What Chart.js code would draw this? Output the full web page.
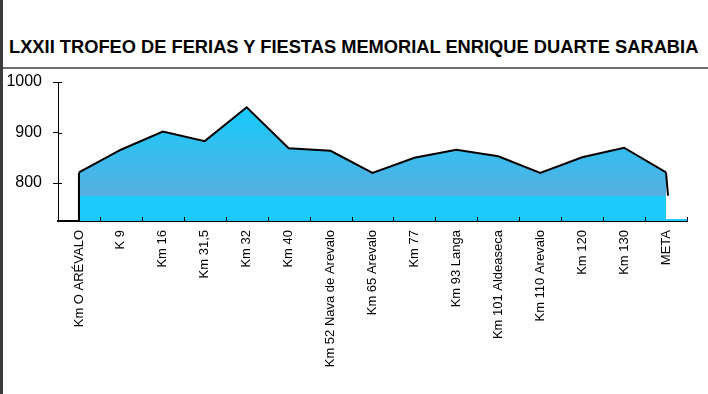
<!DOCTYPE html>
<html>
<head>
<meta charset="utf-8">
<script src="https://cdn.jsdelivr.net/npm/chart.js@4.4.1/dist/chart.umd.min.js"></script>
<style>
  html, body { margin: 0; padding: 0; background: #fff; }
  body { width: 708px; height: 394px; position: relative; overflow: hidden; font-family: "Liberation Sans", Arial, sans-serif; }
  #leftbar { position: absolute; left: 0; top: 0; width: 3px; height: 394px; background: #3c3c3c; }
  #topline { position: absolute; left: 3px; top: 67px; width: 705px; height: 2px; background: #6e6e6e; }
  #title { position: absolute; left: 9px; top: 36px; font-size: 18.3px; font-weight: bold; color: #000; white-space: nowrap; line-height: 22px; }
  #wrap { position: absolute; left: 0; top: 0; width: 708px; height: 394px; }
</style>
</head>
<body>
<div id="leftbar"></div>
<div id="topline"></div>
<div id="title">LXXII TROFEO DE FERIAS Y FIESTAS MEMORIAL ENRIQUE DUARTE SARABIA</div>
<div id="wrap"><canvas id="c" width="708" height="394"></canvas></div>
<script>
// ---- data ----
const categories = ["Km O ARÉVALO", "K 9", "Km 16", "Km 31,5", "Km 32", "Km 40", "Km 52 Nava de Arevalo",
  "Km 65 Arevalo", "Km 77", "Km 93 Langa", "Km 101 Aldeaseca", "Km 110 Arevalo", "Km 120", "Km 130", "META"];
const altitudes = [821, 866, 902, 883, 950, 869, 864, 820, 850, 866, 853, 820, 851, 870, 821];
const yTickValues = [800, 900, 1000];
const yMin = 725;
const yMax = 1000;
const bandValue = 775;

// ---- style helpers ----
function areaFill(context) {
  const chart = context.chart;
  const area = chart.chartArea;
  if (!area) return '#1ec9fc';
  const ys = chart.scales.y;
  const bandY = ys.getPixelForValue(bandValue);
  const g = chart.ctx.createLinearGradient(0, area.top, 0, area.bottom);
  const f = (bandY - area.top) / (area.bottom - area.top);
  g.addColorStop(0, '#10cdfd');
  g.addColorStop(0.2, '#18cafb');
  g.addColorStop(Math.max(0, f - 0.001), '#56afe0');
  g.addColorStop(f, '#1ec9fc');
  g.addColorStop(1, '#1ec9fc');
  return g;
}

const extras = {
  id: 'extras',
  afterDatasetsDraw(chart) {
    const ctx = chart.ctx;
    const area = chart.chartArea;
    const ys = chart.scales.y;
    const meta = chart.getDatasetMeta(0);
    const first = meta.data[0], last = meta.data[meta.data.length - 1];
    const bandY = ys.getPixelForValue(bandValue);
    ctx.save();
    ctx.strokeStyle = '#1ec9fc';
    ctx.lineWidth = 2;
    ctx.beginPath();
    ctx.moveTo(last.x, area.bottom - 1);
    ctx.lineTo(area.right, area.bottom - 1);
    ctx.stroke();
    ctx.strokeStyle = '#000';
    ctx.lineWidth = 2;
    ctx.beginPath();
    ctx.moveTo(first.x, first.y);
    ctx.lineTo(first.x, area.bottom);
    ctx.stroke();
    ctx.beginPath();
    ctx.moveTo(last.x, last.y);
    ctx.lineTo(last.x + 2, bandY);
    ctx.stroke();
    ctx.restore();
  },
  afterDraw(chart) {
    const ctx = chart.ctx;
    const area = chart.chartArea;
    const xs = chart.scales.x, ys = chart.scales.y;
    ctx.save();
    ctx.strokeStyle = '#000';
    ctx.lineWidth = 1;
    const n = categories.length;
    const step = (xs.right - xs.left) / n;
    for (let i = 1; i <= n; i++) {
      const px = Math.round(xs.left + i * step) + 0.5;
      ctx.beginPath();
      ctx.moveTo(px, area.bottom);
      ctx.lineTo(px, area.bottom - 4);
      ctx.stroke();
    }
    yTickValues.forEach(v => {
      const py = Math.round(ys.getPixelForValue(v)) + 0.5;
      ctx.beginPath();
      ctx.moveTo(area.left, py);
      ctx.lineTo(area.left + 4, py);
      ctx.stroke();
    });
    ctx.restore();
  }
};

new Chart(document.getElementById('c'), {
  type: 'line',
  data: {
    labels: categories,
    datasets: [{
      data: altitudes,
      borderColor: '#000',
      borderWidth: 2,
      backgroundColor: areaFill,
      fill: 'start',
      pointRadius: 0,
      tension: 0
    }]
  },
  options: {
    responsive: false,
    animation: false,
    devicePixelRatio: 1,
    layout: { padding: { top: 82, right: 21, left: 0, bottom: 0 } },
    plugins: { legend: { display: false }, tooltip: { enabled: false }, title: { display: false } },
    scales: {
      x: {
        type: 'category',
        offset: true,
        grid: { display: true, offset: true, drawOnChartArea: false, drawTicks: false },
        border: { display: true, color: '#000', width: 2 },
        ticks: {
          autoSkip: false,
          maxRotation: 90,
          minRotation: 90,
          padding: 9,
          color: '#000',
          font: { family: '"Liberation Sans", Arial, sans-serif', size: 13 }
        },
        afterFit(scale) { scale.height = 173; }
      },
      y: {
        min: yMin,
        max: yMax,
        grid: { display: true, drawOnChartArea: false, drawTicks: true, tickLength: 5, color: '#000' },
        border: { display: true, color: '#000', width: 1 },
        afterBuildTicks(scale) { scale.ticks = yTickValues.map(v => ({ value: v })); },
        ticks: {
          padding: 11,
          color: '#000',
          font: { family: '"Liberation Sans", Arial, sans-serif', size: 16 },
          callback: (v) => String(v)
        },
        afterFit(scale) { scale.width = 58; }
      }
    }
  },
  plugins: [extras]
});
</script>
</body>
</html>
